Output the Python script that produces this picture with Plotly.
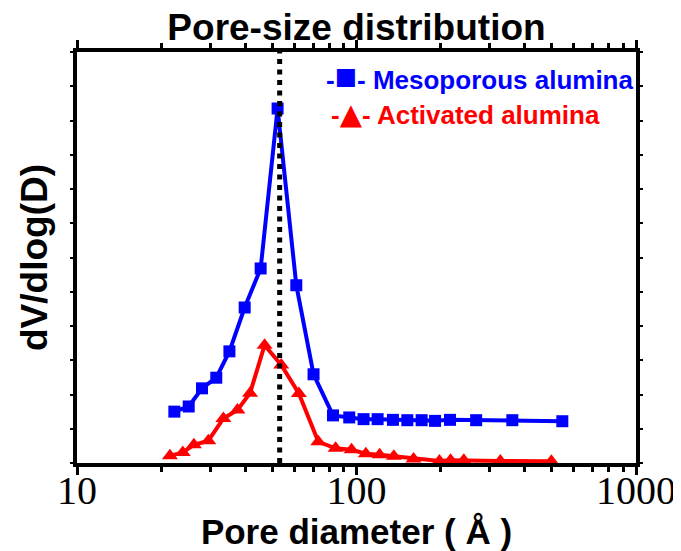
import plotly.graph_objects as go

# ---- data ----
meso_d = [22.3, 25.1, 28.0, 31.5, 35.1, 39.8, 45.4, 52.2, 60.9, 70.2, 82.4, 94.2,
          106, 119, 135, 152, 171, 191, 216, 268, 361, 545]
meso_v = [1.50, 1.65, 2.18, 2.49, 3.26, 4.54, 5.68, 10.35, 5.19, 2.59, 1.39, 1.33,
          1.28, 1.28, 1.26, 1.25, 1.25, 1.23, 1.26, 1.25, 1.25, 1.22]

act_d = [21.5, 23.9, 26.2, 29.5, 33.4, 37.5, 41.6, 46.9, 53.8, 62.2, 73.0, 84.2,
         96.0, 108, 121, 136, 160, 198, 217, 242, 327, 498]
act_v = [0.21, 0.31, 0.53, 0.65, 1.30, 1.55, 2.04, 3.44, 2.86, 2.03, 0.62, 0.43,
         0.39, 0.27, 0.24, 0.20, 0.12, 0.06, 0.08, 0.08, 0.06, 0.05]

peak_line_d = 53.1
x_major = [10, 100, 1000]
x_major_text = ["10", "100", "1000"]
x_minor = [20, 30, 40, 50, 60, 70, 80, 90, 200, 300, 400, 500, 600, 700, 800, 900]

SANS = "Liberation Sans"
SERIF = "Liberation Serif"

W, H = 673, 543          # page body has an 8px margin
L, R, T, B = 69, 45, 44, 88
PW, PH = W - L - R, H - T - B

fig = go.Figure()
fig.add_trace(go.Scatter(
    x=meso_d, y=meso_v, mode="lines+markers", name="Mesoporous alumina",
    line=dict(color="#0000ff", width=4),
    marker=dict(symbol="square", size=12, color="#0000ff"),
    showlegend=False, cliponaxis=False))
fig.add_trace(go.Scatter(
    x=act_d, y=act_v, mode="lines+markers", name="Activated alumina",
    line=dict(color="#ff0000", width=4),
    marker=dict(symbol="triangle-up", size=14, color="#ff0000"),
    showlegend=False, cliponaxis=False))
fig.add_trace(go.Scatter(
    x=[peak_line_d, peak_line_d], y=[0, 12], mode="lines",
    line=dict(color="black", width=5, dash="5px,5.5px"),
    showlegend=False, hoverinfo="skip"))

fig.update_layout(
    width=W, height=H,
    margin=dict(l=L, r=R, t=T, b=B),
    paper_bgcolor="white", plot_bgcolor="white",
    title=dict(text="Pore-size distribution", x=0.5, xref="paper",
               y=1 - 19 / H, yref="container", yanchor="middle", xanchor="center",
               font=dict(family=SANS, size=37, color="black", weight="bold")),
    xaxis=dict(
        type="log", range=[1, 3], showgrid=False, zeroline=False,
        showline=True, linecolor="black", linewidth=4, mirror="ticks",
        ticks="outside", ticklen=8, tickwidth=3, tickcolor="black",
        tickvals=x_major, ticktext=x_major_text, ticklabelstandoff=-19,
        tickfont=dict(family=SERIF, size=40, color="black"),
        minor=dict(tickvals=x_minor, ticks="outside", ticklen=5, tickwidth=3,
                   tickcolor="black", showgrid=False),
        title=dict(text="Pore diameter ( Å )", standoff=1,
                   font=dict(family=SANS, size=35, color="black", weight="bold")),
        automargin=False),
    yaxis=dict(
        range=[0, 12], showgrid=False, zeroline=False,
        showline=True, linecolor="black", linewidth=4, mirror="ticks",
        ticks="outside", ticklen=3, tickwidth=2, tickcolor="black",
        dtick=1, showticklabels=False,
        title=dict(text="dV/dlog(D)", standoff=12,
                   font=dict(family=SANS, size=37, color="black", weight="bold")),
        automargin=False),
)

# legend drawn as text, in the style of the original
fig.add_annotation(
    text="-<span style='font-size:37px'>■</span>- Mesoporous alumina",
    xref="paper", yref="paper", x=(316 - L) / PW, y=(H - B - 68) / PH,
    xanchor="left", yanchor="middle", showarrow=False,
    font=dict(family=SANS, size=26, color="#0000ff", weight="bold"))
fig.add_annotation(
    text="-<span style='font-family:DejaVu Sans;font-size:29px'>▲</span>"
         "<span style='font-family:Liberation Sans;font-weight:bold'>- Activated alumina</span>",
    xref="paper", yref="paper", x=(321 - L) / PW, y=(H - B - 106) / PH,
    xanchor="left", yanchor="middle", showarrow=False,
    font=dict(family=SANS, size=26, color="#ff0000", weight="bold"))

fig.write_html("out.html")
